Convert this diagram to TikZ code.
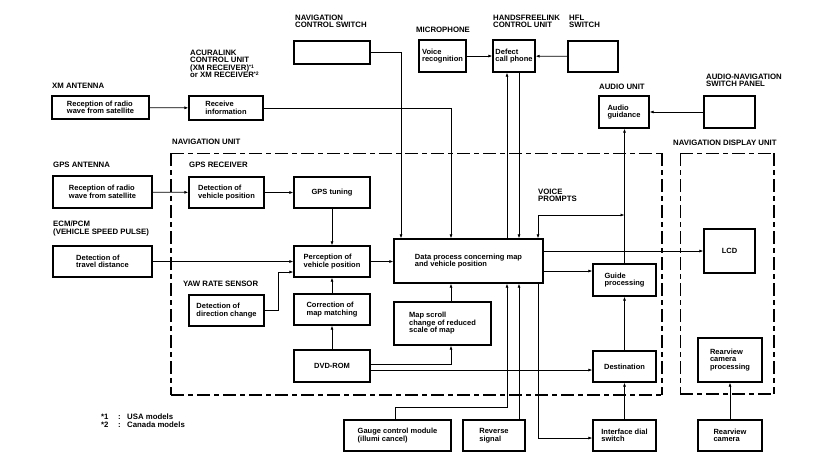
\documentclass[tikz,border=0pt]{standalone}
\usepackage{fontspec}
\setmainfont{Liberation Sans}
\usetikzlibrary{arrows.meta}
\newcommand\bx[6]{\node[box,minimum width={(#4-#2)*1pt},minimum height={(#5-#3)*1pt}] (#1) at ({(#2+#4)/2},{(#3+#5)/2}) {#6};}
\newcommand\fnm[1]{\raisebox{1.8pt}{\fontsize{5}{5}\selectfont #1}}
\begin{document}
\begin{tikzpicture}[x=1pt,y=-1pt,
  box/.style={draw,line width=1.3pt,font=\fontsize{7.5}{7.5}\selectfont\bfseries,align=left,inner sep=1pt},
  lbl/.style={anchor=north west,inner sep=0pt,font=\fontsize{7.8}{7.2}\selectfont\bfseries,align=left},
  arr/.style={line width=0.7pt,-{Latex[length=4pt,width=3pt]}},
  arrb/.style={line width=0.7pt,{Latex[length=4pt,width=3pt]}-{Latex[length=4pt,width=3pt]}},
  con/.style={line width=0.7pt},
  bthin/.style={line width=0.6pt,dash pattern=on 13pt off 4pt on 5pt off 4pt},
  bmid/.style={line width=1.1pt,dash pattern=on 13pt off 4pt on 5pt off 4pt},
  bthick/.style={line width=1.8pt,dash pattern=on 13pt off 4pt on 5pt off 4pt}]
\useasboundingbox (0,0) rectangle (832,472);

% unit borders
\draw[bthin] (171,153) -- (662,153);
\draw[bmid] (171,153) -- (171,395);
\draw[bthick] (662,153) -- (662,395);
\draw[bthick] (171,395) -- (662,395);
\draw[bthin] (680,153) -- (774,153);
\draw[bthin] (680,153) -- (680,394);
\draw[bthick] (774,153) -- (774,394);
\draw[bthick] (680,394) -- (774,394);

% boxes
\bx{xm}{52}{96}{149}{119}{Reception of radio\\wave from satellite}
\bx{recv}{189}{96}{263}{120}{Receive\\information}
\bx{navsw}{294}{41}{370}{64}{}
\bx{voice}{419}{40}{466}{72}{Voice\\recognition}
\bx{defect}{493}{40}{535}{72}{Defect\\call phone}
\bx{hfl}{568}{41}{618}{72}{}
\bx{audio}{599}{96}{649}{128}{Audio\\guidance}
\bx{avsw}{704}{96}{755}{128}{}
\bx{gpsant}{53}{176}{152}{208}{Reception of radio\\wave from satellite}
\bx{detpos}{189}{177}{264}{208}{Detection of\\vehicle position}
\bx{gpstune}{294}{177}{370}{208}{GPS tuning}
\bx{travel}{53}{246}{152}{277}{Detection of\\travel distance}
\bx{percep}{294}{246}{370}{277}{Perception of\\vehicle position}
\bx{yaw}{189}{295}{264}{326}{Detection of\\direction change}
\bx{corr}{294}{294}{370}{325}{Correction of\\map matching}
\bx{dvd}{294}{350}{370}{382}{DVD-ROM}
\bx{data}{394}{239}{543}{283}{Data process concerning map\\and vehicle position}
\bx{mapsc}{394}{302}{491}{345}{Map scroll\\change of reduced\\scale of map}
\bx{lcd}{704}{229}{755}{273}{LCD}
\bx{guide}{593}{264}{656}{296}{Guide\\processing}
\bx{dest}{593}{351}{656}{382}{Destination}
\bx{rproc}{698}{338}{762}{382}{Rearview\\camera\\processing}
\bx{gauge}{344}{420}{451}{451}{Gauge control module\\(illumi cancel)}
\bx{reverse}{463}{420}{525}{451}{Reverse\\signal}
\bx{ifdial}{593}{420}{656}{451}{Interface dial\\switch}
\bx{rcam}{698}{420}{762}{451}{Rearview\\camera}

% labels
\node[lbl] (l1) at (52,83) {XM ANTENNA};
\node[lbl] (l2) at (190,50) {ACURALINK\\CONTROL UNIT\\(XM RECEIVER)\fnm{*1}\\or XM RECEIVER\fnm{*2}};
\node[lbl] (l3) at (172,139) {NAVIGATION UNIT};
\node[lbl] (l4) at (295,15) {NAVIGATION\\CONTROL SWITCH};
\node[lbl] (l5) at (416,27) {MICROPHONE};
\node[lbl] (l6) at (493,15) {HANDSFREELINK\\CONTROL UNIT};
\node[lbl] (l7) at (569,15) {HFL\\SWITCH};
\node[lbl] (l8) at (599,84) {AUDIO UNIT};
\node[lbl] (l9) at (706,74) {AUDIO-NAVIGATION\\SWITCH PANEL};
\node[lbl] (l10) at (673,140) {NAVIGATION DISPLAY UNIT};
\node[lbl] (l11) at (53,162) {GPS ANTENNA};
\node[lbl] (l12) at (189,162) {GPS RECEIVER};
\node[lbl] (l13) at (53,221) {ECM/PCM\\(VEHICLE SPEED PULSE)};
\node[lbl] (l14) at (183,281) {YAW RATE SENSOR};
\node[lbl] (l15) at (538,189) {VOICE\\PROMPTS};
\node[lbl] (l16) at (101,414) {\makebox[17pt][l]{*1}\makebox[9pt][l]{:}USA models\\\makebox[17pt][l]{*2}\makebox[9pt][l]{:}Canada models};

% connectors
\draw[arr] (xm) -- (recv);
\draw[arr] (recv.east) -| (451,0 |- data.north);
\draw[arr] (navsw.east) -| (401,0 |- data.north);
\draw[arr] (voice) -- (defect);
\draw[arr] (hfl) -- (defect);
\draw[arr] (507,0 |- data.north) -- (507,0 |- defect.south);
\draw[arr] (519,0 |- defect.south) -- (519,0 |- data.north);
\draw[arrb] (538,0 |- data.north) -- (538,215) -- (624.5,215);
\draw[arr] (guide.north) -- (audio.south -| guide.north);
\draw[arr] (avsw) -- (audio);
\draw[arr] (data.east |- lcd.west) -- (lcd.west);
\draw[arr] (data.east |- 0,271) -- (guide.west |- 0,271);
\draw[arr] (dest) -- (guide);
\draw[arr] (ifdial) -- (dest);
\draw[arr] (gpsant) -- (detpos);
\draw[arr] (detpos) -- (gpstune);
\draw[arr] (gpstune) -- (percep);
\draw[arr] (travel) -- (percep);
\draw[arr] (yaw.east) -- (278,0 |- yaw.east) |- (percep.west |- 0,272);
\draw[arr] (percep.east) -- (data.west |- percep.east);
\draw[arr] (corr) -- (percep);
\draw[arr] (dvd) -- (corr);
\draw[arr] (451,0 |- mapsc.north) -- (451,0 |- data.south);
\draw[arr] (dvd.east |- 0,364) -| (451,0 |- mapsc.south);
\draw[arr] (dvd.east |- 0,370) -- (dest.west |- 0,370);
\draw[arr] (395,0 |- gauge.north) -- (395,407) -| (507,0 |- data.south);
\draw[arr] (519,0 |- reverse.north) -- (519,0 |- data.south);
\draw[arr] (538,0 |- data.south) |- (ifdial.west |- 0,438);
\draw[arr] (rcam) -- (rproc);
\end{tikzpicture}
\end{document}
